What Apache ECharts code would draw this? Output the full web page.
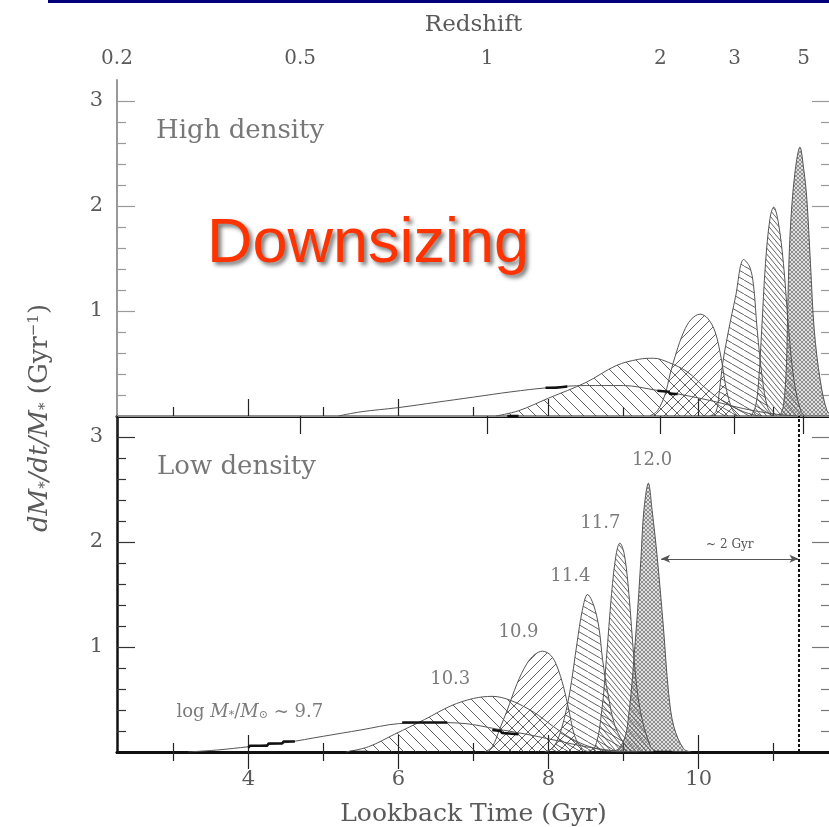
<!DOCTYPE html>
<html>
<head>
<meta charset="utf-8">
<script src="https://cdn.jsdelivr.net/npm/echarts@6/dist/echarts.min.js"></script>
<style>
  html, body { margin: 0; padding: 0; background: #fff; }
  #chart { width: 829px; height: 827px; }
</style>
</head>
<body>
<div id="chart"></div>
<script>
// tick positions / labels
var majorX = [4, 6, 8, 10];
var minorX = [3, 5, 7, 9, 11];
var majorY = [1, 2, 3];
var minorY = [0.2, 0.4, 0.6, 0.8, 1.2, 1.4, 1.6, 1.8, 2.2, 2.4, 2.6, 2.8];
// redshift ticks, placed at their lookback time (Gyr)
var zLabels = ['0.2', '0.5', '1', '2', '3', '5'];
var zLookback = [2.25, 4.69, 7.18, 9.49, 10.48, 11.40];

// low density panel, [lookback Gyr, dM/dt/M]
var lo97 = [[3.2,0],[3.6,0.02],[4.0,0.05],[4.5,0.09],[5.0,0.15],[5.5,0.21],[6.0,0.27],[6.5,0.28],[6.9,0.27],[7.3,0.22],[7.7,0.17],[8.1,0.11],[8.5,0.05],[8.9,0.01],[9.2,0]];
var lo103 = [[5.3,0],[5.6,0.05],[5.95,0.17],[6.35,0.31],[6.7,0.44],[7.0,0.51],[7.25,0.53],[7.5,0.49],[7.8,0.38],[8.05,0.25],[8.3,0.13],[8.55,0.05],[8.8,0.01],[9.0,0]];
var lo109 = [[7.15,0],[7.25,0.05],[7.35,0.22],[7.45,0.4],[7.58,0.65],[7.71,0.84],[7.82,0.93],[7.92,0.96],[8.03,0.92],[8.11,0.82],[8.2,0.62],[8.27,0.4],[8.35,0.15],[8.45,0.03],[8.55,0]];
var lo114 = [[7.95,0],[8.07,0.05],[8.18,0.24],[8.28,0.56],[8.38,1.04],[8.45,1.35],[8.52,1.5],[8.6,1.4],[8.67,1.19],[8.72,0.88],[8.79,0.56],[8.89,0.24],[9.05,0.04],[9.15,0]];
var lo117 = [[8.5,0],[8.62,0.05],[8.71,0.4],[8.77,0.88],[8.84,1.51],[8.9,1.88],[8.95,1.99],[9.01,1.88],[9.07,1.51],[9.14,0.88],[9.22,0.4],[9.36,0.05],[9.45,0]];
var lo120 = [[8.85,0],[8.96,0.05],[9.05,0.24],[9.17,1.19],[9.23,1.83],[9.27,2.3],[9.33,2.56],[9.38,2.3],[9.45,1.84],[9.53,1.19],[9.6,0.56],[9.67,0.24],[9.8,0.03],[9.9,0]];

// high density panel
var hi97 = [[5.2,0],[5.5,0.04],[6.0,0.08],[6.5,0.13],[7.0,0.18],[7.5,0.23],[8.0,0.27],[8.5,0.29],[9.0,0.29],[9.4,0.25],[9.8,0.2],[10.2,0.14],[10.6,0.07],[11.0,0.02],[11.3,0]];
var hi103 = [[7.3,0],[7.6,0.05],[8.0,0.17],[8.5,0.32],[8.9,0.48],[9.2,0.54],[9.4,0.55],[9.6,0.51],[9.85,0.42],[10.1,0.26],[10.35,0.13],[10.6,0.04],[10.8,0]];
var hi109 = [[9.35,0],[9.45,0.05],[9.55,0.2],[9.62,0.4],[9.7,0.6],[9.8,0.8],[9.9,0.92],[10.02,0.97],[10.12,0.93],[10.22,0.8],[10.3,0.55],[10.37,0.25],[10.45,0.06],[10.52,0]];
var hi114 = [[10.15,0],[10.23,0.04],[10.27,0.2],[10.32,0.5],[10.4,0.82],[10.49,1.13],[10.6,1.49],[10.68,1.42],[10.73,1.25],[10.78,0.82],[10.85,0.35],[10.92,0.08],[11.0,0]];
var hi117 = [[10.7,0],[10.76,0.1],[10.8,0.34],[10.84,0.82],[10.89,1.45],[10.95,1.88],[11.0,1.99],[11.06,1.85],[11.13,1.45],[11.2,0.82],[11.27,0.34],[11.36,0.05],[11.42,0]];
var hi120 = [[11.08,0],[11.13,0.1],[11.17,0.5],[11.19,1.13],[11.22,1.76],[11.28,2.3],[11.35,2.56],[11.4,2.35],[11.44,2.08],[11.49,1.45],[11.54,0.82],[11.62,0.34],[11.71,0.05],[11.78,0]];

// short heavy steps drawn over the curves
var loSteps = [
  [[4.0,0.04],[4.02,0.06],[4.25,0.06],[4.27,0.08],[4.45,0.08],[4.47,0.1],[4.62,0.1]],
  [[6.05,0.28],[6.65,0.28]],
  [[5.35,0],[5.6,0]],
  [[7.25,0.21],[7.36,0.2],[7.38,0.18],[7.6,0.17]],
  [[9.4,0],[9.65,0]]
];
var hiSteps = [
  [[7.96,0.27],[8.1,0.27],[8.12,0.28],[8.25,0.28]],
  [[7.45,0],[7.6,0]],
  [[9.45,0.24],[9.6,0.23],[9.62,0.21],[9.72,0.21]]
];

// mass labels in the low density panel: text, lookback, value
var massTags = ['12.0', '11.7', '11.4', '10.9', '10.3'];
var massTagX = [9.38, 8.69, 8.29, 7.6, 6.69];
var massTagY = [2.78, 2.18, 1.67, 1.14, 0.69];

var gapFrom = 9.5, gapTo = 11.33, gapLevel = 1.84;

var serif = 'DejaVu Serif';
var txt = '#5a5a5a';

function hatch(w, h, dirs, color, lw, bg) {
  var c = document.createElement('canvas');
  c.width = w; c.height = h;
  var g = c.getContext('2d');
  if (bg) { g.fillStyle = bg; g.fillRect(0, 0, w, h); }
  g.strokeStyle = color;
  g.lineWidth = lw;
  dirs.forEach(function(d){
    for (var k = -1; k <= 1; k++) {
      g.beginPath();
      if (d === '\\') { g.moveTo(k*w, 0); g.lineTo(k*w + w, h); }
      else { g.moveTo(k*w, h); g.lineTo(k*w + w, 0); }
      g.stroke();
    }
  });
  return { image: c, repeat: 'repeat' };
}

var fills = {
  f103: hatch(12, 12, ['\\'], 'rgba(60,60,60,0.8)', 1),
  f109: hatch(10, 10, ['/'], 'rgba(60,60,60,0.8)', 1),
  f114: hatch(12, 7, ['\\'], 'rgba(60,60,60,0.8)', 1),
  f117: hatch(5, 6, ['\\'], 'rgba(60,60,60,0.8)', 1),
  f120: hatch(4, 4, ['\\', '/'], 'rgba(70,70,70,0.65)', 0.8, 'rgba(150,150,150,0.3)')
};

function curve(pts, fill, xi, yi) {
  return {
    type: 'line', data: pts, xAxisIndex: xi, yAxisIndex: yi,
    smooth: 0.35, showSymbol: false, symbol: 'none', silent: true,
    lineStyle: { color: '#555', width: 1 },
    areaStyle: fill ? { color: fill, opacity: 1 } : undefined
  };
}
function step(pts, xi, yi) {
  return {
    type: 'line', data: pts, xAxisIndex: xi, yAxisIndex: yi,
    showSymbol: false, symbol: 'none', silent: true, z: 4,
    lineStyle: { color: '#111', width: 2.5 }
  };
}

function xAx(grid, pos, vals, len, line, extra) {
  var a = {
    type: 'value', gridIndex: grid, position: pos, min: 2.25, max: 11.75,
    axisLine: line ? { show: true, lineStyle: line } : { show: false },
    axisTick: { show: true, inside: true, length: len, customValues: vals, lineStyle: { color: '#222', width: 1.2 } },
    axisLabel: { show: false },
    splitLine: { show: false }
  };
  return Object.assign(a, extra || {});
}
function yAx(grid, pos, vals, len, line, tickColor, extra) {
  var a = {
    type: 'value', gridIndex: grid, position: pos, min: 0, max: 3.2,
    axisLine: line ? { show: true, lineStyle: line } : { show: false },
    axisTick: { show: true, inside: true, length: len, customValues: vals, lineStyle: { color: tickColor, width: 1.2 } },
    axisLabel: { show: false },
    splitLine: { show: false }
  };
  return Object.assign(a, extra || {});
}

var chart = echarts.init(document.getElementById('chart'), null, { renderer: 'canvas' });

var xAxes = [
  // high density panel
  xAx(0, 'bottom', majorX, 17, { color: '#111', width: 3 }),
  xAx(0, 'bottom', minorX, 9, null),
  xAx(0, 'top', zLookback, 18, { color: '#bbb', width: 1.5 }, {
    axisLabel: {
      show: true, customValues: zLookback, margin: 11,
      color: txt, fontFamily: serif, fontSize: 20,
      formatter: function(v){
        for (var i = 0; i < zLookback.length; i++) {
          if (Math.abs(zLookback[i] - v) < 1e-6) return zLabels[i];
        }
        return '';
      }
    },
    name: 'Redshift', nameLocation: 'middle', nameGap: 43,
    nameTextStyle: { color: txt, fontFamily: serif, fontSize: 23 }
  }),
  // low density panel
  xAx(1, 'bottom', majorX, 17, { color: '#111', width: 2.5 }, {
    axisLabel: {
      show: true, customValues: majorX, margin: 17,
      color: txt, fontFamily: serif, fontSize: 21
    },
    name: 'Lookback Time (Gyr)', nameLocation: 'middle', nameGap: 50,
    nameTextStyle: { color: txt, fontFamily: serif, fontSize: 25 }
  }),
  xAx(1, 'bottom', minorX, 9, null),
  xAx(1, 'top', majorX, 17, { color: '#111', width: 3 }),
  xAx(1, 'top', minorX, 9, null)
];

var yLabel = { show: true, customValues: majorY, margin: 14, color: txt, fontFamily: serif, fontSize: 21 };
var yAxes = [
  yAx(0, 'left', majorY, 18, { color: '#999', width: 2 }, '#999', { axisLabel: yLabel }),
  yAx(0, 'left', minorY, 9, null, '#999'),
  yAx(0, 'right', majorY, 18, { color: '#999', width: 2 }, '#999'),
  yAx(0, 'right', minorY, 9, null, '#999'),
  yAx(1, 'left', majorY, 18, { color: '#111', width: 2.5 }, '#333', { axisLabel: yLabel }),
  yAx(1, 'left', minorY, 9, null, '#333'),
  yAx(1, 'right', majorY, 18, { color: '#111', width: 2.5 }, '#777'),
  yAx(1, 'right', minorY, 9, null, '#777')
];

var series = [
  curve(hi97, null, 0, 0),
  curve(hi103, fills.f103, 0, 0),
  curve(hi109, fills.f109, 0, 0),
  curve(hi114, fills.f114, 0, 0),
  curve(hi117, fills.f117, 0, 0),
  curve(hi120, fills.f120, 0, 0),
  curve(lo97, null, 3, 4),
  curve(lo103, fills.f103, 3, 4),
  curve(lo109, fills.f109, 3, 4),
  curve(lo114, fills.f114, 3, 4),
  curve(lo117, fills.f117, 3, 4),
  curve(lo120, fills.f120, 3, 4)
];
hiSteps.forEach(function(s){ series.push(step(s, 0, 0)); });
loSteps.forEach(function(s){ series.push(step(s, 3, 4)); });

// ~2 Gyr arrow
series.push({
  type: 'line', data: [], xAxisIndex: 3, yAxisIndex: 4, silent: true,
  markLine: {
    silent: true, animation: false,
    symbol: ['arrow', 'arrow'], symbolSize: [6, 9],
    data: [[{ coord: [gapFrom, gapLevel] }, { coord: [gapTo, gapLevel] }]],
    lineStyle: { color: '#555', width: 1, type: 'solid' },
    label: {
      show: true, position: 'insideMiddleTop', distance: 8,
      formatter: '~ 2 Gyr', color: '#555', fontFamily: serif, fontSize: 12
    }
  }
});
// dotted marker at the onset time
series.push({
  type: 'line', data: [], xAxisIndex: 3, yAxisIndex: 4, silent: true,
  markLine: {
    silent: true, animation: false,
    symbol: ['none', 'none'],
    data: [{ xAxis: gapTo }],
    lineStyle: { type: [3, 2], width: 2, color: '#111' },
    label: { show: false }
  }
});

// mass labels
series.push({
  type: 'scatter', xAxisIndex: 3, yAxisIndex: 4, symbolSize: 0, silent: true,
  itemStyle: { color: 'rgba(0,0,0,0)' },
  data: massTags.map(function(t, i){ return [massTagX[i], massTagY[i], t]; }),
  label: {
    show: true, position: 'inside', color: txt, fontFamily: serif, fontSize: 18,
    formatter: function(p){ return p.data[2]; }
  }
});
series.push({
  type: 'scatter', xAxisIndex: 3, yAxisIndex: 4, symbolSize: 0, silent: true,
  itemStyle: { color: 'rgba(0,0,0,0)' },
  data: [[4.02, 0.38]],
  label: {
    show: true, position: 'inside', color: txt,
    formatter: '{n|log }{i|M}{s|*}{n|/}{i|M}{s|⊙}{n| ~ 9.7}',
    rich: {
      n: { fontFamily: serif, fontSize: 18, color: txt },
      i: { fontFamily: serif, fontStyle: 'italic', fontSize: 18, color: txt },
      s: { fontFamily: serif, fontSize: 11, color: txt, verticalAlign: 'bottom' }
    }
  }
});

var option = {
  backgroundColor: '#fff',
  animation: false,
  grid: [
    { left: 117, top: 80, width: 713, height: 336, containLabel: false, outerBoundsMode: 'none' },
    { left: 117, top: 416, width: 713, height: 336, containLabel: false, outerBoundsMode: 'none' }
  ],
  xAxis: xAxes,
  yAxis: yAxes,
  series: series,
  graphic: [
    { type: 'rect', shape: { x: 48, y: 0, width: 781, height: 3 }, style: { fill: '#00007a' }, silent: true },
    { type: 'text', x: 156, y: 131, style: { text: 'High density', fill: '#777', font: '26px "DejaVu Serif"', verticalAlign: 'middle' }, silent: true },
    { type: 'text', x: 157, y: 467, style: { text: 'Low density', fill: '#777', font: '26px "DejaVu Serif"', verticalAlign: 'middle' }, silent: true },
    {
      type: 'text', x: 207, y: 245, z: 100, silent: true,
      style: {
        text: 'Downsizing', fill: '#ff3300', font: '63px "Liberation Sans"', verticalAlign: 'middle',
        textShadowColor: 'rgba(0,0,0,0.55)', textShadowBlur: 4, textShadowOffsetX: 3, textShadowOffsetY: 3
      }
    },
    {
      type: 'text', x: 40, y: 418, rotation: Math.PI / 2, silent: true,
      style: {
        text: '{i|dM}{s|*}{i|/dt/M}{s|*}{n| (Gyr}{p|−1}{n|)}',
        align: 'center', verticalAlign: 'middle',
        rich: {
          i: { fontFamily: serif, fontStyle: 'italic', fontSize: 26, fill: txt },
          n: { fontFamily: serif, fontSize: 26, fill: txt },
          s: { fontFamily: serif, fontSize: 15, fill: txt, verticalAlign: 'bottom' },
          p: { fontFamily: serif, fontSize: 15, fill: txt, verticalAlign: 'top' }
        }
      }
    }
  ]
};

chart.setOption(option);
</script>
</body>
</html>
